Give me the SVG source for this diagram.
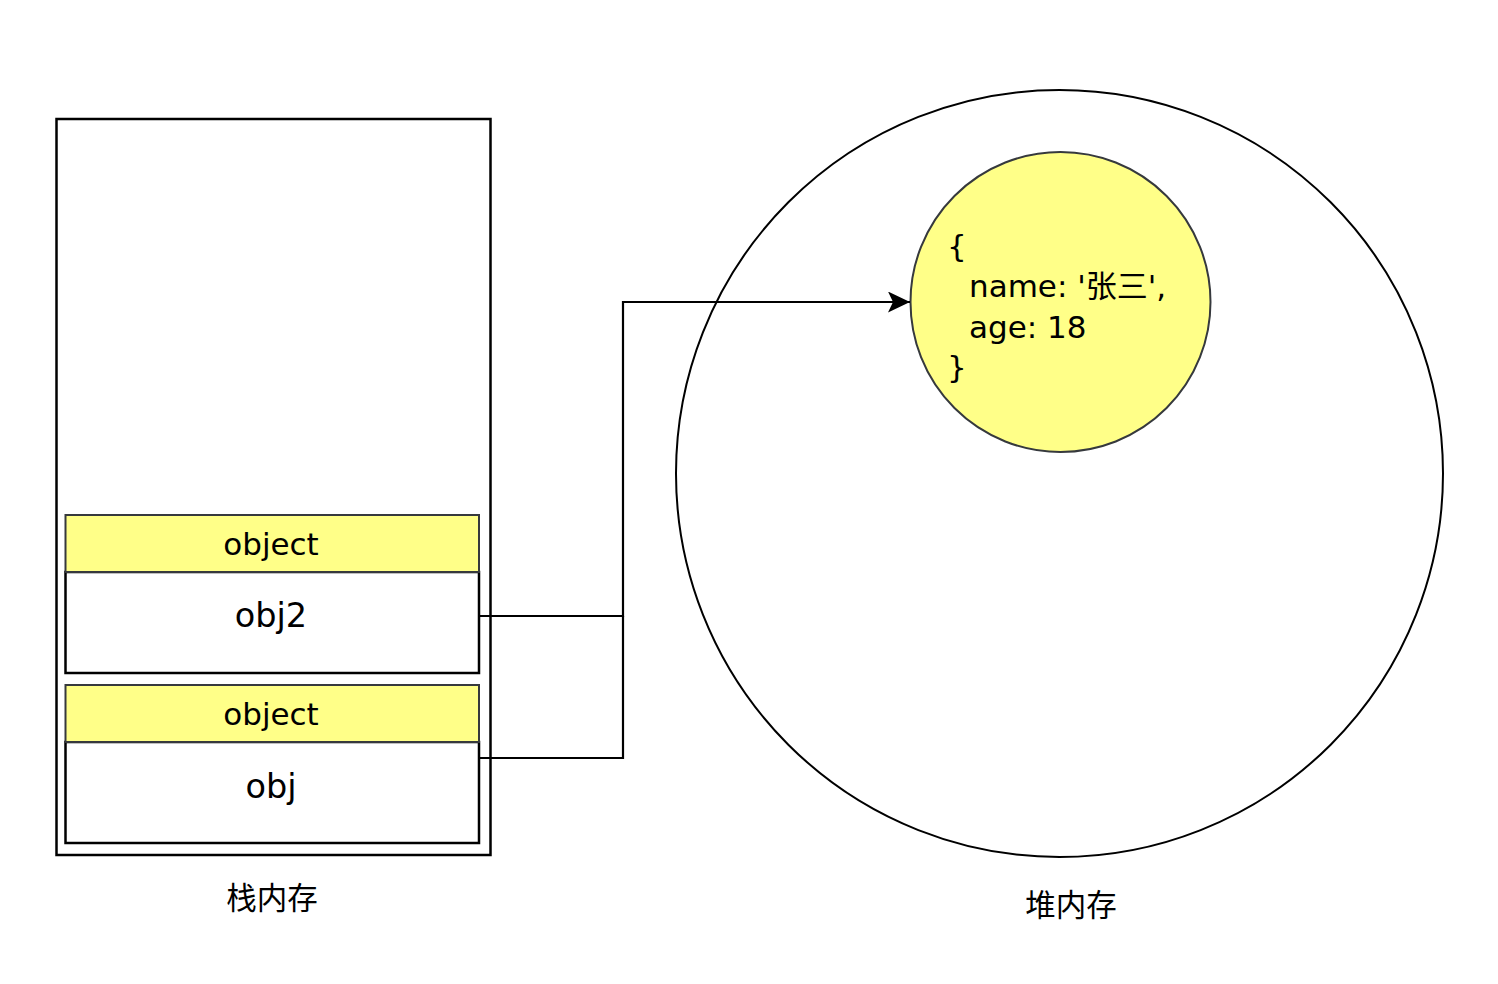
<svg xmlns="http://www.w3.org/2000/svg" width="1498" height="984" viewBox="0 0 1498 984">
<style>
  .t { font-family: "DejaVu Sans", "Noto Sans CJK SC", sans-serif; fill: #000; }
  .hdr { fill: #ffff88; stroke: #36393d; stroke-width: 2; }
  .body { fill: #ffffff; stroke: #000; stroke-width: 2.5; }
  .conn { fill: none; stroke: #000; stroke-width: 2.2; }
</style>
<defs>
  <marker id="arrow" markerWidth="22" markerHeight="21" refX="22" refY="10.5" orient="auto" markerUnits="userSpaceOnUse" viewBox="0 0 22 21">
    <path d="M0,0 L22,10.5 L0,21 L5,10.5 Z" fill="#000"/>
  </marker>
</defs>
<rect width="1498" height="984" fill="#ffffff"/>

<g id="stack">
  <rect x="56.5" y="119" width="434" height="736" fill="#ffffff" stroke="#000" stroke-width="2.5"/>
  <text class="t" x="272" y="909" font-size="30.5" text-anchor="middle">栈内存</text>
</g>

<g id="heap">
  <circle cx="1059.5" cy="473.5" r="383.5" fill="#ffffff" stroke="#000" stroke-width="2"/>
  <text class="t" x="1071" y="916" font-size="30.5" text-anchor="middle">堆内存</text>
</g>

<g id="obj2-box">
  <rect class="body" x="65.5" y="572" width="413.5" height="101"/>
  <rect class="hdr" x="65.5" y="515" width="413.5" height="57"/>
  <text class="t" x="271" y="555" font-size="31" text-anchor="middle">object</text>
  <text class="t" x="271" y="627" font-size="33.5" text-anchor="middle">obj2</text>
</g>

<g id="obj-box">
  <rect class="body" x="65.5" y="742" width="413.5" height="101"/>
  <rect class="hdr" x="65.5" y="685" width="413.5" height="57"/>
  <text class="t" x="271" y="725" font-size="31" text-anchor="middle">object</text>
  <text class="t" x="271" y="798" font-size="33.5" text-anchor="middle">obj</text>
</g>

<g id="object-node">
  <circle cx="1060.5" cy="302" r="150" fill="#ffff88" stroke="#36393d" stroke-width="2"/>
  <text class="t" font-size="31">
    <tspan x="947" y="257">{</tspan>
    <tspan x="969" y="297">name: '张三',</tspan>
    <tspan x="969" y="338">age: 18</tspan>
    <tspan x="947" y="378">}</tspan>
  </text>
</g>

<g id="connectors">
  <path class="conn" d="M479,616 H623 V302 H910" marker-end="url(#arrow)"/>
  <path class="conn" d="M479,758 H623 V616"/>
</g>
</svg>
